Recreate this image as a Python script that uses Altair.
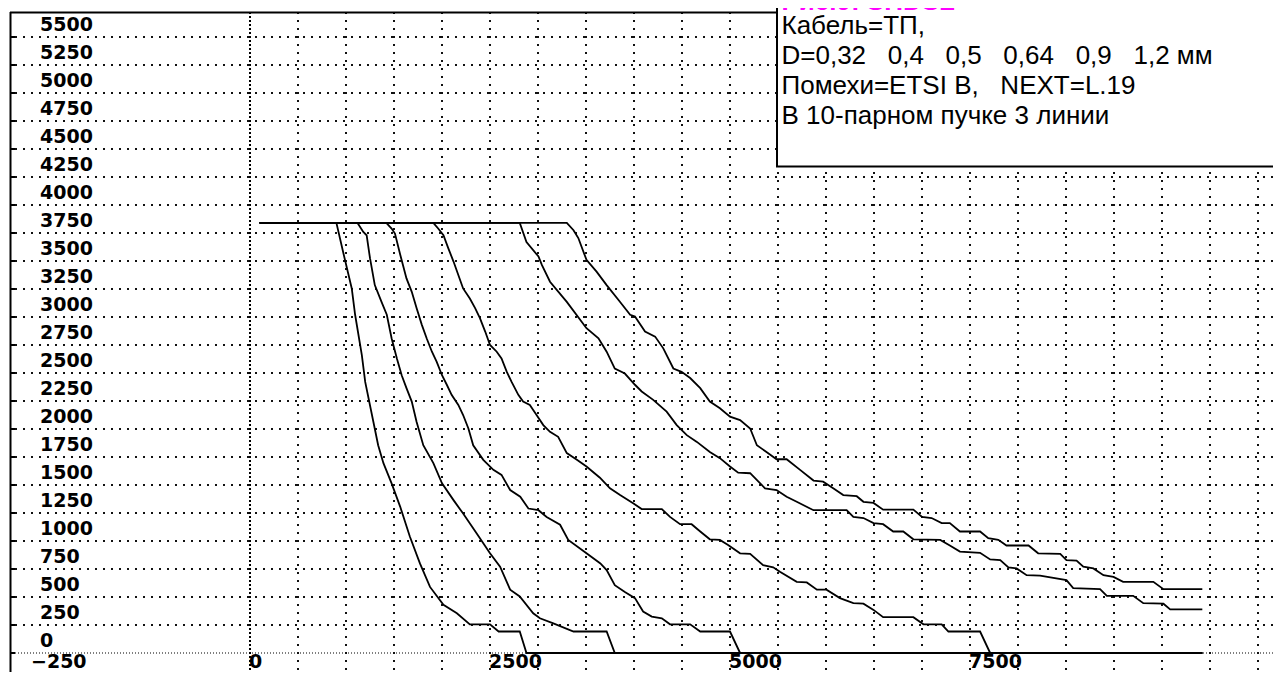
import altair as alt
import pandas as pd

# ---------------- data ----------------
d032_x = [100, 900, 970, 1060, 1095, 1165, 1200, 1285, 1335, 1390, 1475, 1565, 1665, 1770, 1875, 2015, 2155, 2290, 2500, 2590, 2810, 2880, 9920]
d032_y = [3840, 3840, 3580, 3255, 3020, 2660, 2420, 2065, 1855, 1695, 1515, 1305, 1040, 800, 590, 430, 355, 256, 256, 192, 192, 0, 0]

d04_x = [100, 1120, 1180, 1215, 1250, 1300, 1370, 1425, 1475, 1530, 1580, 1630, 1685, 1735, 1805, 1910, 2000, 2120, 2220, 2360, 2500, 2605, 2710, 2810, 2950, 3020, 3160, 3370, 3715, 3800, 9920]
d04_y = [3840, 3840, 3760, 3730, 3525, 3285, 3135, 3020, 2810, 2630, 2480, 2365, 2245, 2065, 1855, 1695, 1515, 1365, 1245, 1070, 890, 770, 565, 505, 355, 310, 265, 192, 192, 0, 0]

d05_x = [100, 1420, 1475, 1510, 1565, 1630, 1685, 1735, 1790, 1840, 1895, 1945, 2000, 2050, 2100, 2170, 2220, 2275, 2325, 2430, 2535, 2620, 2710, 2815, 2900, 3005, 3090, 3230, 3315, 3505, 3650, 3715, 3800, 3905, 4010, 4095, 4185, 4290, 4375, 4585, 4690, 5000, 5105, 9920]
d05_y = [3840, 3840, 3790, 3745, 3555, 3345, 3225, 3080, 2930, 2810, 2690, 2600, 2480, 2395, 2305, 2215, 2125, 2005, 1855, 1725, 1635, 1590, 1455, 1395, 1290, 1275, 1215, 1145, 1010, 890, 800, 740, 605, 545, 490, 370, 325, 310, 256, 256, 192, 192, 0, 0]

d064_x = [100, 1910, 1960, 2015, 2065, 2120, 2170, 2220, 2290, 2345, 2395, 2450, 2500, 2570, 2620, 2675, 2725, 2795, 2845, 2915, 2985, 3055, 3125, 3210, 3300, 3405, 3505, 3645, 3750, 3855, 3995, 4080, 4290, 4375, 4480, 4600, 4690, 4790, 4895, 4980, 5105, 5210, 5345, 5450, 5520, 5695, 5800, 5905, 6005, 6145, 6285, 6390, 6495, 6595, 6910, 7015, 7205, 7275, 7605, 7710, 9920]
d064_y = [3840, 3840, 3790, 3730, 3615, 3495, 3375, 3255, 3165, 3080, 2990, 2870, 2750, 2690, 2630, 2510, 2420, 2305, 2245, 2215, 2125, 2035, 1975, 1930, 1785, 1725, 1665, 1565, 1470, 1410, 1335, 1285, 1285, 1215, 1150, 1150, 1085, 1015, 1010, 965, 890, 885, 785, 765, 725, 635, 630, 565, 565, 490, 445, 440, 385, 320, 320, 256, 256, 192, 192, 0, 0]

d09_x = [100, 2810, 2880, 3005, 3040, 3125, 3300, 3505, 3630, 3715, 3800, 3905, 4010, 4080, 4200, 4340, 4445, 4550, 4655, 4790, 4895, 5000, 5085, 5210, 5365, 5485, 5590, 5695, 5870, 6215, 6285, 6390, 6495, 6595, 6700, 6805, 6910, 7190, 7290, 7395, 7605, 7710, 7815, 7900, 7985, 8090, 8230, 8505, 8575, 8855, 8925, 9200, 9305, 9515, 9585, 9920]
d09_y = [3840, 3840, 3670, 3540, 3465, 3315, 3135, 2900, 2810, 2690, 2540, 2495, 2395, 2335, 2260, 2155, 2035, 1945, 1885, 1795, 1740, 1665, 1610, 1605, 1470, 1455, 1395, 1350, 1275, 1275, 1215, 1205, 1160, 1150, 1085, 1085, 1015, 1010, 960, 905, 895, 835, 830, 765, 755, 695, 690, 650, 580, 570, 510, 510, 445, 440, 390, 390]

d12_x = [100, 3300, 3370, 3420, 3505, 3610, 3715, 3845, 3960, 4010, 4115, 4220, 4305, 4410, 4495, 4585, 4690, 4790, 4895, 5000, 5105, 5210, 5280, 5380, 5485, 5590, 5730, 5870, 5970, 6075, 6180, 6320, 6390, 6495, 6595, 6910, 7000, 7100, 7205, 7290, 7395, 7605, 7690, 7795, 7880, 8110, 8210, 8440, 8505, 8610, 8680, 8785, 8890, 8995, 9095, 9410, 9515, 9920]
d12_y = [3840, 3840, 3775, 3705, 3510, 3405, 3285, 3145, 3020, 3005, 2870, 2825, 2720, 2540, 2510, 2455, 2365, 2245, 2185, 2110, 2080, 2005, 1855, 1795, 1730, 1730, 1635, 1540, 1530, 1470, 1410, 1400, 1350, 1340, 1280, 1280, 1215, 1205, 1160, 1160, 1085, 1085, 1025, 1010, 960, 960, 890, 885, 830, 825, 770, 755, 695, 680, 635, 635, 570, 570]

series_names = ["0,32", "0,4", "0,5", "0,64", "0,9", "1,2"]
series_x = [d032_x, d04_x, d05_x, d064_x, d09_x, d12_x]
series_y = [d032_y, d04_y, d05_y, d064_y, d09_y, d12_y]

y_grid_values = list(range(250, 5501, 250))
x_grid_values = list(range(500, 10501, 500))
y_tick_labels = list(range(0, 5501, 250))
y_neg_label = [-250]
x_tick_labels = [0, 2500, 5000, 7500]

title_text = "Рис.9: SHDSL"
legend_lines = [
    "Кабель=ТП,",
    "D=0,32\u00a0\u00a0\u00a00,4\u00a0\u00a0\u00a00,5\u00a0\u00a0\u00a00,64\u00a0\u00a0\u00a00,9\u00a0\u00a0\u00a01,2 мм",
    "Помехи=ETSI B,\u00a0\u00a0\u00a0NEXT=L.19",
    "В 10-парном пучке 3 линии",
]

# ---------------- build tables ----------------
rows = []
for name, xs_, ys_ in zip(series_names, series_x, series_y):
    for i, (a, b) in enumerate(zip(xs_, ys_)):
        rows.append({"D": name, "L": a, "R": b, "i": i})
curves_df = pd.DataFrame(rows)

W, H = 1263, 660
xscale = alt.Scale(domain=[-2500, 10656.25], nice=False, zero=False)
yscale = alt.Scale(domain=[-169.64, 5723.2], nice=False, zero=False)
one = pd.DataFrame({"a": [0]})

LABEL_FONT = "DejaVu Sans"
GRID = dict(color="#111", strokeWidth=2, strokeDash=[2, 6])

hgrid = alt.Chart(pd.DataFrame({"v": y_grid_values})).mark_rule(**GRID).encode(
    y=alt.Y("v:Q", scale=yscale, axis=None), x=alt.value(5), x2=alt.value(W)
)

zero_line = alt.Chart(pd.DataFrame({"v": [0]})).mark_rule(
    color="#000", strokeWidth=1.2, strokeDash=[1, 2]
).encode(y=alt.Y("v:Q", scale=yscale, axis=None), x=alt.value(5), x2=alt.value(W))

vgrid = alt.Chart(pd.DataFrame({"v": x_grid_values})).mark_rule(**GRID).encode(
    x=alt.X("v:Q", scale=xscale, axis=None), y=alt.value(0), y2=alt.value(H)
)

v0 = alt.Chart(pd.DataFrame({"v": [0]})).mark_rule(
    color="#000", strokeWidth=2, strokeDash=[2, 2]
).encode(x=alt.X("v:Q", scale=xscale, axis=None), y=alt.value(0), y2=alt.value(H))

stubs = alt.Chart(pd.DataFrame({"v": y_tick_labels})).mark_rule(
    color="#000", strokeWidth=2
).encode(y=alt.Y("v:Q", scale=yscale, axis=None), x=alt.value(0), x2=alt.value(5))

left_frame = alt.Chart(one).mark_rule(color="#000", strokeWidth=2).encode(
    x=alt.value(0.5), y=alt.value(0), y2=alt.value(H)
)
top_frame = alt.Chart(one).mark_rule(color="#000", strokeWidth=2).encode(
    x=alt.value(0), x2=alt.value(W), y=alt.value(0.5)
)

ylabels = alt.Chart(pd.DataFrame({"v": y_tick_labels})).mark_text(
    align="left", baseline="alphabetic", dy=-6, font=LABEL_FONT, fontSize=19,
    fontWeight="bold", color="#000"
).encode(y=alt.Y("v:Q", scale=yscale, axis=None), x=alt.value(30), text=alt.Text("v:Q", format="d"))

yneg = alt.Chart(pd.DataFrame({"v": y_neg_label})).mark_text(
    align="left", baseline="alphabetic", dy=-13, font=LABEL_FONT, fontSize=19,
    fontWeight="bold", color="#000"
).encode(y=alt.Y("v:Q", scale=yscale, axis=None), x=alt.value(21), text=alt.Text("v:Q", format="d"))

xlabels = alt.Chart(pd.DataFrame({"v": x_tick_labels})).mark_text(
    align="left", baseline="alphabetic", dx=-1, font=LABEL_FONT, fontSize=19,
    fontWeight="bold", color="#000"
).encode(x=alt.X("v:Q", scale=xscale, axis=None), y=alt.value(656), text=alt.Text("v:Q", format="d"))

curves = alt.Chart(curves_df).mark_line(color="#000", strokeWidth=1.8).encode(
    x=alt.X("L:Q", scale=xscale, axis=None),
    y=alt.Y("R:Q", scale=yscale, axis=None),
    detail="D:N",
    order="i:Q",
)

legend_box = alt.Chart(one).mark_rect(fill="#fff", stroke="#000", strokeWidth=2).encode(
    x=alt.value(767), x2=alt.value(1400), y=alt.value(-40), y2=alt.value(154.5)
)
legend_title = alt.Chart(one).mark_text(
    align="left", baseline="alphabetic", font="Liberation Sans", fontSize=26,
    fontWeight="bold", color="#ff00ff"
).encode(x=alt.value(771.5), y=alt.value(-2), text=alt.value(title_text))
legend_text = alt.Chart(one).mark_text(
    align="left", baseline="alphabetic", font="Liberation Sans", fontSize=26,
    color="#000", lineBreak="\n", lineHeight=30
).encode(x=alt.value(771.5), y=alt.value(22.3), text=alt.value("\n".join(legend_lines)))

chart = alt.layer(
    hgrid, zero_line, vgrid, v0, stubs, left_frame, top_frame,
    ylabels, yneg, xlabels, curves, legend_box, legend_title, legend_text
).properties(
    width=W, height=H,
    autosize=alt.AutoSizeParams(type="none"),
    padding={"left": 2, "top": 4, "right": 0, "bottom": 0},
    background="#ffffff",
).configure_view(stroke=None)

chart.save("out.html", embed_options={"renderer": "svg", "actions": False})
